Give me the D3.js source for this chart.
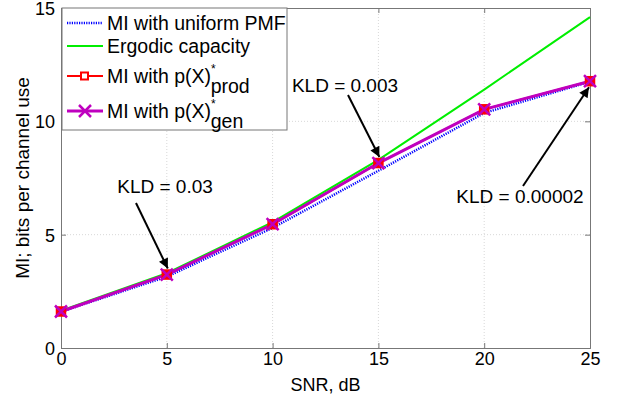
<!DOCTYPE html>
<html>
<head>
<meta charset="utf-8">
<script src="https://cdn.jsdelivr.net/npm/d3@7"></script>
<style>
  body { margin: 0; background: #fff; }
  text { font-family: "Liberation Sans", Arial, sans-serif; }
</style>
</head>
<body>
<div id="chart"></div>
<script>
// data
const snr = [0, 5, 10, 15, 20, 25];
const miUniform = [1.6, 3.15, 5.3, 7.82, 10.37, 11.75];
const ergodic = [1.65, 3.3, 5.55, 8.3, 11.4, 14.6];
const miProd = [1.61, 3.24, 5.46, 8.16, 10.53, 11.77];
const miGen = [1.61, 3.24, 5.46, 8.16, 10.53, 11.77];
const xTicks = [0, 5, 10, 15, 20, 25];
const yTicks = [0, 5, 10, 15];
const notes = [
  { label: "KLD = 0.03", x: 5, y: 3.24 },
  { label: "KLD = 0.003", x: 15, y: 8.16 },
  { label: "KLD = 0.00002", x: 25, y: 11.77 }
];

const W = 620, H = 398;
const m = { left: 61, right: 30, top: 8, bottom: 50 };

const svg = d3.select('#chart').append('svg')
  .attr('width', W).attr('height', H);

const x = d3.scaleLinear().domain([0, 25]).range([m.left, W - m.right]);
const y = d3.scaleLinear().domain([0, 15]).range([H - m.bottom, m.top]);

// grid
const grid = svg.append('g');
grid.selectAll('.gx').data(xTicks.slice(1, -1)).enter().append('line')
  .attr('x1', d => x(d)).attr('x2', d => x(d))
  .attr('y1', y(0)).attr('y2', y(15))
  .attr('stroke', '#d8d8d8').attr('stroke-dasharray', '1,2');
grid.selectAll('.gy').data(yTicks.slice(1, -1)).enter().append('line')
  .attr('x1', x(0)).attr('x2', x(25))
  .attr('y1', d => y(d)).attr('y2', d => y(d))
  .attr('stroke', '#d8d8d8').attr('stroke-dasharray', '1,2');

// axes (matlab style: ticks inward on all four sides)
const tickLen = 5;
const axBot = svg.append('g').attr('transform', `translate(0,${y(0)})`)
  .call(d3.axisBottom(x).tickValues(xTicks).tickSize(-tickLen).tickPadding(6));
const axTop = svg.append('g').attr('transform', `translate(0,${y(15)})`)
  .call(d3.axisTop(x).tickValues(xTicks).tickSize(-tickLen).tickFormat(''));
const axLeft = svg.append('g').attr('transform', `translate(${x(0)},0)`)
  .call(d3.axisLeft(y).tickValues(yTicks).tickSize(-tickLen).tickPadding(6));
const axRight = svg.append('g').attr('transform', `translate(${x(25)},0)`)
  .call(d3.axisRight(y).tickValues(yTicks).tickSize(-tickLen).tickFormat(''));

[axBot, axTop, axLeft, axRight].forEach(a => {
  a.select('.domain').attr('stroke', '#777').attr('stroke-width', 1);
  a.selectAll('.tick line').attr('stroke', '#777');
  a.selectAll('text').attr('font-size', 18).attr('fill', '#000')
    .style('font-family', '"Liberation Sans", Arial, sans-serif');
});
axLeft.selectAll('.tick text').attr('dy', '0.36em');
axBot.selectAll('.tick text').attr('dy', '0.6em');

// axis titles
svg.append('text').attr('x', (x(0) + x(25)) / 2).attr('y', 391)
  .attr('text-anchor', 'middle').attr('font-size', 18).text('SNR, dB');
svg.append('text')
  .attr('transform', `translate(29,${(y(0) + y(15)) / 2}) rotate(-90)`)
  .attr('text-anchor', 'middle').attr('font-size', 19)
  .text('MI; bits per channel use');

// series
const line = vals => d3.line().x((d, i) => x(snr[i])).y(d => y(d))(vals);
const plot = svg.append('g');

plot.append('path').attr('d', line(ergodic))
  .attr('fill', 'none').attr('stroke', '#00ee00').attr('stroke-width', 2);
plot.append('path').attr('d', line(miUniform))
  .attr('fill', 'none').attr('stroke', '#0000ff').attr('stroke-width', 2.5)
  .attr('stroke-dasharray', '1.2,1.2');
plot.append('path').attr('d', line(miProd))
  .attr('fill', 'none').attr('stroke', '#ff0000').attr('stroke-width', 2);
plot.append('path').attr('d', line(miGen))
  .attr('fill', 'none').attr('stroke', '#bf00bf').attr('stroke-width', 3);

const sq = 9;
plot.selectAll('.sq').data(miProd).enter().append('rect')
  .attr('x', (d, i) => x(snr[i]) - sq / 2).attr('y', d => y(d) - sq / 2)
  .attr('width', sq).attr('height', sq)
  .attr('fill', '#ff0000').attr('stroke', '#ff0000').attr('stroke-width', 1.5);

const cross = 6;
const crossPath = (cx, cy) =>
  `M${cx - cross},${cy - cross}L${cx + cross},${cy + cross}M${cx - cross},${cy + cross}L${cx + cross},${cy - cross}`;
plot.selectAll('.cx').data(miGen).enter().append('path')
  .attr('d', (d, i) => crossPath(x(snr[i]), y(d)))
  .attr('stroke', '#bf00bf').attr('stroke-width', 2.5).attr('fill', 'none');

// annotations
svg.append('defs').append('marker')
  .attr('id', 'arr').attr('viewBox', '0 0 10 10')
  .attr('refX', 10).attr('refY', 5)
  .attr('markerWidth', 12).attr('markerHeight', 10)
  .attr('markerUnits', 'userSpaceOnUse')
  .attr('orient', 'auto')
  .append('path').attr('d', 'M0,0L10,5L0,10z').attr('fill', '#000');

const noteLayout = [
  { tx: 165, ty: 193, ax: 136, ay: 203, dx: 1, dy: -6 },
  { tx: 345, ty: 92, ax: 348, ay: 95, dx: 1, dy: -6 },
  { tx: 520, ty: 203, ax: 523, ay: 186, dx: -1, dy: 6 }
];
notes.forEach((n, i) => {
  const L = noteLayout[i];
  svg.append('text').attr('x', L.tx).attr('y', L.ty)
    .attr('text-anchor', 'middle').attr('font-size', 19).text(n.label);
  svg.append('line')
    .attr('x1', L.ax).attr('y1', L.ay)
    .attr('x2', x(n.x) + L.dx).attr('y2', y(n.y) + L.dy)
    .attr('stroke', '#000').attr('stroke-width', 2)
    .attr('marker-end', 'url(#arr)');
});

// legend
const lg = svg.append('g');
lg.append('rect').attr('x', 62).attr('y', 8).attr('width', 225).attr('height', 122)
  .attr('fill', '#fff').attr('stroke', '#777');
const items = [
  { color: '#0000ff', dash: '1.2,1.2', w: 2.5, text: 'MI with uniform PMF', cy: 23 },
  { color: '#00ee00', dash: null, w: 2, text: 'Ergodic capacity', cy: 46 },
  { color: '#ff0000', dash: null, w: 2, text: 'MI with p(X)', sup: '*', sub: 'prod', cy: 76, marker: 'sq' },
  { color: '#bf00bf', dash: null, w: 3, text: 'MI with p(X)', sup: '*', sub: 'gen', cy: 111, marker: 'x' }
];
items.forEach(it => {
  const g = lg.append('g');
  g.append('line').attr('x1', 67).attr('x2', 103).attr('y1', it.cy).attr('y2', it.cy)
    .attr('stroke', it.color).attr('stroke-width', it.w)
    .attr('stroke-dasharray', it.dash);
  if (it.marker === 'sq') {
    g.append('rect').attr('x', 81).attr('y', it.cy - 3.5).attr('width', 7).attr('height', 7)
      .attr('fill', '#fff').attr('stroke', it.color).attr('stroke-width', 2);
  }
  if (it.marker === 'x') {
    g.append('path').attr('d', crossPath(85, it.cy))
      .attr('stroke', it.color).attr('stroke-width', 2.5);
  }
  const t = g.append('text').attr('x', 107).attr('y', it.cy + 7).attr('font-size', 19.5);
  t.append('tspan').text(it.text);
  if (it.sup) {
    t.append('tspan').attr('font-size', 12).attr('dy', -10).text(it.sup);
    t.append('tspan').attr('font-size', 19.5).attr('dx', -5).attr('dy', 20).text(it.sub);
  }
});
</script>
</body>
</html>
